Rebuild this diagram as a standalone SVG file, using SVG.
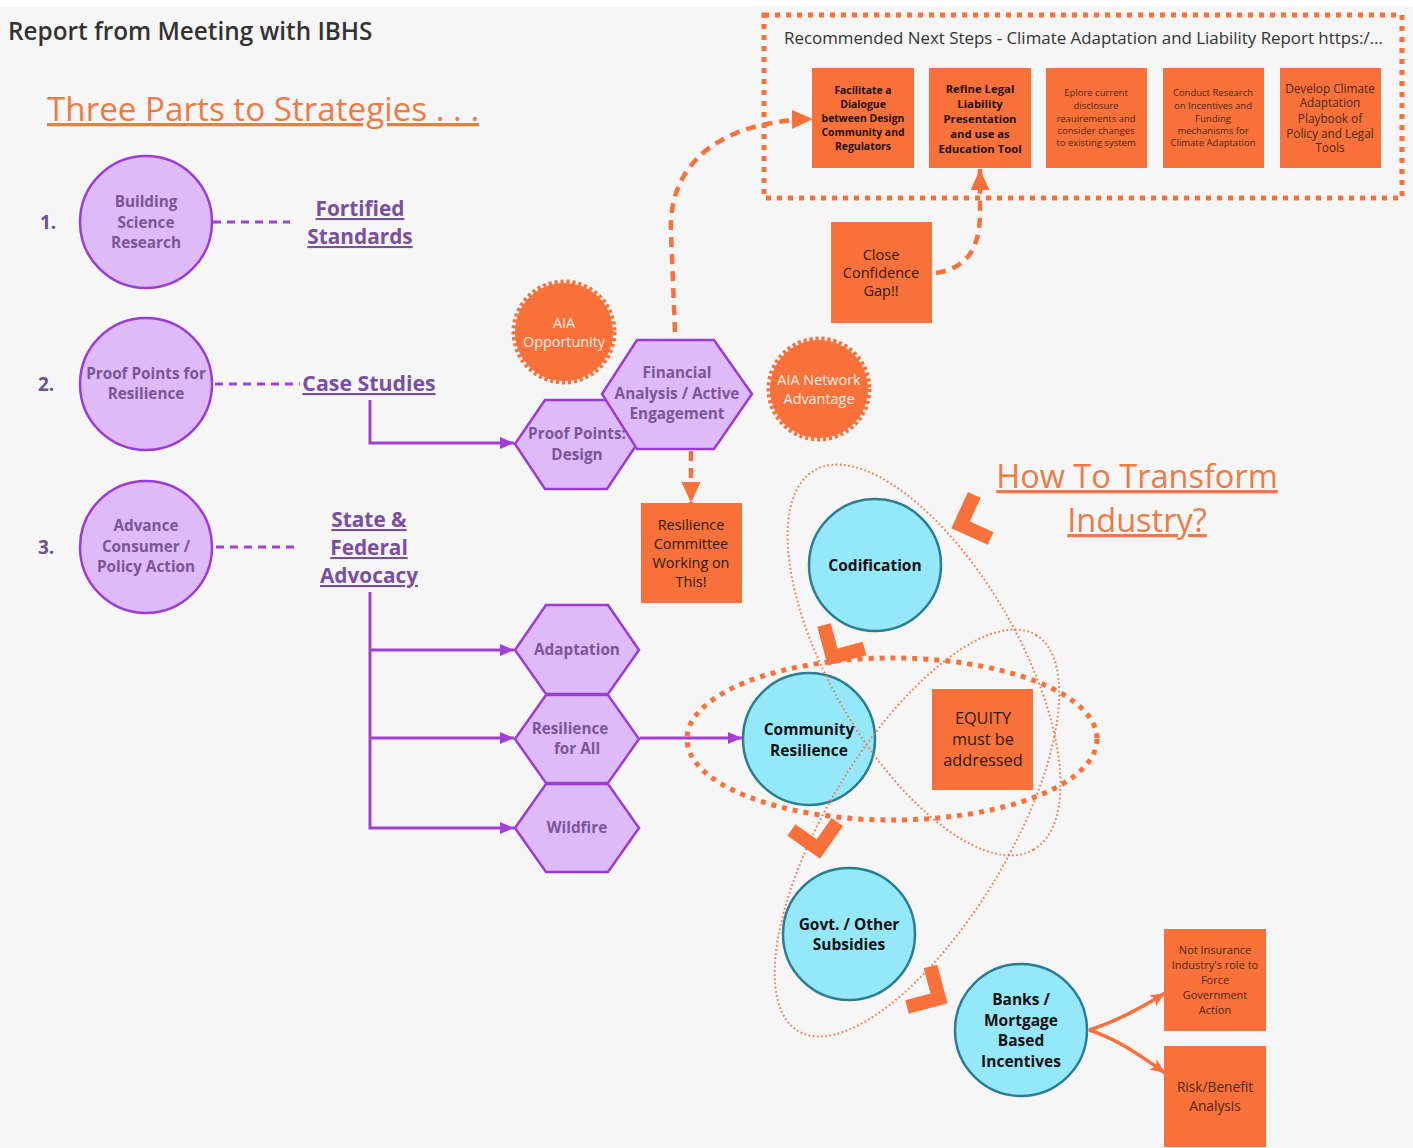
<svg xmlns="http://www.w3.org/2000/svg" width="1413" height="1148" viewBox="0 0 1413 1148">
<defs>
<style>
text{font-family:"Open Sans",Lato,"Liberation Sans",sans-serif;text-anchor:middle}
.hdr{fill:#333;font-weight:600}
.org{fill:#EE7A44}
.pc{fill:#DFBAF8;stroke:#9B3CD8;stroke-width:2.5}
.pt{fill:#7A5697;font-weight:700;font-size:15.3px}
.num{fill:#6B5189;font-weight:700;font-size:19px;text-anchor:start}
.pl{fill:#7A4FA0;font-weight:700;font-size:20.8px;text-decoration:underline}
.cy{fill:#95E8F9;stroke:#2B7D92;stroke-width:2.5}
.ct{fill:#111;font-weight:700;font-size:15.5px}
.ob{fill:#F9713A}
.obt{fill:#2D1A0E;font-size:14.4px}
.obb{fill:#1E120A;font-weight:700}
.obs{fill:#4A2A18}
.aia{fill:#FFEDE3;font-size:14.4px}
.pcon{fill:none;stroke:#A040D8;stroke-width:3}
.pdash{fill:none;stroke:#A040D8;stroke-width:3;stroke-dasharray:8 6}
.odash{fill:none;stroke:#F9713A;stroke-width:4.5;stroke-dasharray:10 7}
.odot{fill:none;stroke:#F9713A;stroke-width:5;stroke-dasharray:5 6}
.othin{fill:none;stroke:#F07A45;stroke-width:2;stroke-dasharray:1.6 2.6}
.chev{fill:none;stroke:#F9713A;stroke-width:14;stroke-linejoin:miter;stroke-linecap:butt}
</style>
<marker id="ap" markerUnits="userSpaceOnUse" markerWidth="15" markerHeight="15" refX="14" refY="7" orient="auto"><path d="M0,1 L14,7 L0,13 z" fill="#A040D8"/></marker>
<marker id="ao" markerUnits="userSpaceOnUse" markerWidth="22" markerHeight="20" refX="21" refY="9.5" orient="auto"><path d="M0,0 L21,9.5 L0,19 z" fill="#F9713A"/></marker>
<marker id="as" markerUnits="userSpaceOnUse" markerWidth="16" markerHeight="14" refX="15" refY="6.5" orient="auto"><path d="M0,0 L15,6.5 L0,13 L4,6.5 z" fill="#F9713A"/></marker>
</defs>
<rect width="1413" height="1148" fill="#F6F6F6"/>
<rect width="1413" height="7" fill="#FFFFFF"/>

<g id="titles">
<text x="8" y="40" class="hdr" font-size="24.3" style="text-anchor:start">Report from Meeting with IBHS</text>
<text x="47" y="121" class="org" font-size="33.2" style="text-anchor:start;text-decoration:underline">Three Parts to Strategies . . .</text>
<text x="1137" y="488" class="org" font-size="32.5" style="text-decoration:underline">How To Transform</text>
<text x="1137" y="532" class="org" font-size="32.5" style="text-decoration:underline">Industry?</text>
</g>

<g id="next-steps">
<rect x="764" y="15" width="638" height="183" class="odot"/>
<text x="784" y="44" fill="#333" font-size="16" textLength="599" lengthAdjust="spacingAndGlyphs" style="text-anchor:start">Recommended Next Steps - Climate Adaptation and Liability Report https:/...</text>
</g>

<g id="connectors">
<path class="pdash" d="M213 222 H290"/>
<path class="pdash" d="M215 384 H300"/>
<path class="pdash" d="M216 547 H300"/>
<path class="pcon" d="M370 400 V443 H514" marker-end="url(#ap)"/>
<path class="pcon" d="M370 592 V828 H514" marker-end="url(#ap)"/>
<path class="pcon" d="M370 650 H514" marker-end="url(#ap)"/>
<path class="pcon" d="M370 738 H514" marker-end="url(#ap)"/>
<path class="pcon" d="M640 738 H742" marker-end="url(#ap)"/>
<path class="odash" d="M675 332 L671 232 C668 165 718 121 813 119" marker-end="url(#ao)"/>
<path class="odash" d="M936 273 C966 268 980 250 980 212 L980 169" marker-end="url(#ao)"/>
<path class="odash" d="M691 451 L691 503" marker-end="url(#ao)"/>
<path fill="none" stroke="#F9713A" stroke-width="3.5" d="M1089 1030 C1115 1022 1138 1010 1165 993" marker-end="url(#as)"/>
<path fill="none" stroke="#F9713A" stroke-width="3.5" d="M1089 1030 C1115 1038 1140 1055 1165 1073" marker-end="url(#as)"/>
</g>

<g id="step-1"><rect x="812" y="68" width="102" height="100" class="ob"/>
<text class="obb" font-size="10.4"><tspan x="863" y="94">Facilitate a</tspan><tspan x="863" y="108">Dialogue</tspan><tspan x="863" y="122">between Design</tspan><tspan x="863" y="136">Community and</tspan><tspan x="863" y="150">Regulators</tspan></text></g>
<g id="step-2"><rect x="929" y="68" width="102" height="100" class="ob"/>
<text class="obb" font-size="11.3"><tspan x="980" y="93">Refine Legal</tspan><tspan x="980" y="108">Liability</tspan><tspan x="980" y="123">Presentation</tspan><tspan x="980" y="138">and use as</tspan><tspan x="980" y="153">Education Tool</tspan></text></g>
<g id="step-3"><rect x="1046" y="68" width="101" height="100" class="ob"/>
<text class="obs" font-size="9.5"><tspan x="1096" y="96">Eplore current</tspan><tspan x="1096" y="109">disclosure</tspan><tspan x="1096" y="122">reauirements and</tspan><tspan x="1096" y="134">consider changes</tspan><tspan x="1096" y="146">to existing system</tspan></text></g>
<g id="step-4"><rect x="1163" y="68" width="101" height="100" class="ob"/>
<text class="obs" font-size="9.5"><tspan x="1213" y="96">Conduct Research</tspan><tspan x="1213" y="109">on Incentives and</tspan><tspan x="1213" y="122">Funding</tspan><tspan x="1213" y="134">mechanisms for</tspan><tspan x="1213" y="146">Climate Adaptation</tspan></text></g>
<g id="step-5"><rect x="1280" y="68" width="101" height="100" class="ob"/>
<text class="obs" font-size="11.8"><tspan x="1330" y="93">Develop Climate</tspan><tspan x="1330" y="107">Adaptation</tspan><tspan x="1330" y="123">Playbook of</tspan><tspan x="1330" y="138">Policy and Legal</tspan><tspan x="1330" y="152">Tools</tspan></text></g>

<g id="close-gap"><rect x="831" y="222" width="101" height="101" class="ob"/>
<text class="obt" style="font-size:14.5px"><tspan x="881" y="260">Close</tspan><tspan x="881" y="278">Confidence</tspan><tspan x="881" y="296">Gap!!</tspan></text></g>

<g id="num-labels">
<text x="40" y="229" class="num">1.</text>
<text x="38" y="391" class="num">2.</text>
<text x="38" y="554" class="num">3.</text>
</g>

<g id="building-science"><circle cx="146" cy="222" r="66" class="pc"/>
<text class="pt"><tspan x="146" y="207">Building</tspan><tspan x="146" y="228">Science</tspan><tspan x="146" y="248">Research</tspan></text></g>
<g id="proof-points"><circle cx="146" cy="384" r="66" class="pc"/>
<text class="pt"><tspan x="146" y="379">Proof Points for</tspan><tspan x="146" y="399">Resilience</tspan></text></g>
<g id="advance-consumer"><circle cx="146" cy="547" r="66" class="pc"/>
<text class="pt"><tspan x="146" y="531">Advance</tspan><tspan x="146" y="552">Consumer /</tspan><tspan x="146" y="572">Policy Action</tspan></text></g>

<g id="fortified"><text class="pl"><tspan x="360" y="216">Fortified</tspan><tspan x="360" y="244">Standards</tspan></text></g>
<g id="case-studies"><text class="pl" x="369" y="391" style="font-size:21.3px">Case Studies</text></g>
<g id="advocacy"><text class="pl"><tspan x="369" y="527">State &amp;</tspan><tspan x="369" y="555">Federal</tspan><tspan x="369" y="583">Advocacy</tspan></text></g>

<g id="aia-opportunity"><circle cx="564" cy="332" r="49" fill="#F9713A"/><circle cx="564" cy="332" r="50.5" fill="none" stroke="#F9713A" stroke-width="4" stroke-dasharray="3.2 2.8"/>
<text class="aia"><tspan x="564" y="328">AIA</tspan><tspan x="564" y="347">Opportunity</tspan></text></g>

<g id="proof-design"><polygon points="515,444 545,400 607,400 637,444 607,489 545,489" class="pc"/>
<text class="pt"><tspan x="577" y="439">Proof Points:</tspan><tspan x="577" y="460">Design</tspan></text></g>
<g id="financial"><polygon points="602,394 637,340 714,340 752,394 714,449 637,449" class="pc"/>
<text class="pt"><tspan x="677" y="378">Financial</tspan><tspan x="677" y="399">Analysis / Active</tspan><tspan x="677" y="419">Engagement</tspan></text></g>

<g id="aia-network"><circle cx="819" cy="389" r="49" fill="#F9713A"/><circle cx="819" cy="389" r="50.5" fill="none" stroke="#F9713A" stroke-width="4" stroke-dasharray="3.2 2.8"/>
<text class="aia"><tspan x="819" y="385">AIA Network</tspan><tspan x="819" y="404">Advantage</tspan></text></g>

<g id="committee"><rect x="641" y="503" width="101" height="100" class="ob"/>
<text class="obt"><tspan x="691" y="530">Resilience</tspan><tspan x="691" y="549">Committee</tspan><tspan x="691" y="568">Working on</tspan><tspan x="691" y="587">This!</tspan></text></g>

<g id="adaptation"><polygon points="515,650 546,605 608,605 639,650 608,694 546,694" class="pc"/>
<text class="pt" x="577" y="655">Adaptation</text></g>
<g id="resilience-all"><polygon points="515,739 546,695 608,695 639,739 608,783 546,783" class="pc"/>
<text class="pt"><tspan x="570" y="734">Resilience</tspan><tspan x="577" y="754">for All</tspan></text></g>
<g id="wildfire"><polygon points="515,828 546,784 608,784 639,828 608,872 546,872" class="pc"/>
<text class="pt" x="577" y="833">Wildfire</text></g>

<g id="equity-ring"><ellipse cx="892" cy="739" rx="205" ry="81" class="odot"/></g>

<g id="codification"><circle cx="875" cy="565" r="66" class="cy"/>
<text class="ct" x="875" y="571">Codification</text></g>
<g id="community-resilience"><circle cx="809" cy="739" r="66" class="cy"/>
<text class="ct"><tspan x="809" y="735">Community</tspan><tspan x="809" y="756">Resilience</tspan></text></g>
<g id="govt"><circle cx="849" cy="934" r="66" class="cy"/>
<text class="ct"><tspan x="849" y="930">Govt. / Other</tspan><tspan x="849" y="950">Subsidies</tspan></text></g>
<g id="banks"><circle cx="1021" cy="1030" r="66" class="cy"/>
<text class="ct"><tspan x="1021" y="1005">Banks /</tspan><tspan x="1021" y="1026">Mortgage</tspan><tspan x="1021" y="1046">Based</tspan><tspan x="1021" y="1067">Incentives</tspan></text></g>

<g id="equity"><rect x="932" y="689" width="101" height="101" class="ob"/>
<text class="obt" style="font-size:16.3px"><tspan x="983" y="724">EQUITY</tspan><tspan x="983" y="745">must be</tspan><tspan x="983" y="766">addressed</tspan></text></g>

<g id="loops">
<ellipse cx="924" cy="660" rx="219" ry="94" transform="rotate(60 924 660)" class="othin"/>
<ellipse cx="917" cy="833" rx="231" ry="91" transform="rotate(-59 917 833)" class="othin"/>
</g>

<g id="chevrons">
<polyline class="chev" points="974.3,494.8 960.6,524.8 990.6,538.5"/>
<polyline class="chev" points="824,625 832.6,657 864.5,648.5"/>
<polyline class="chev" points="791.4,830 818.4,849 837.3,822"/>
<polyline class="chev" points="930.5,966.5 939,998.4 907,1007"/>
</g>

<g id="not-insurance"><rect x="1164" y="929" width="102" height="102" class="ob"/>
<text class="obs" font-size="11"><tspan x="1215" y="954">Not Insurance</tspan><tspan x="1215" y="969">Industry's role to</tspan><tspan x="1215" y="984">Force</tspan><tspan x="1215" y="999">Government</tspan><tspan x="1215" y="1014">Action</tspan></text></g>
<g id="risk-benefit"><rect x="1164" y="1046" width="102" height="101" class="ob"/>
<text class="obs" font-size="13.7"><tspan x="1215" y="1092">Risk/Benefit</tspan><tspan x="1215" y="1111">Analysis</tspan></text></g>
</svg>
